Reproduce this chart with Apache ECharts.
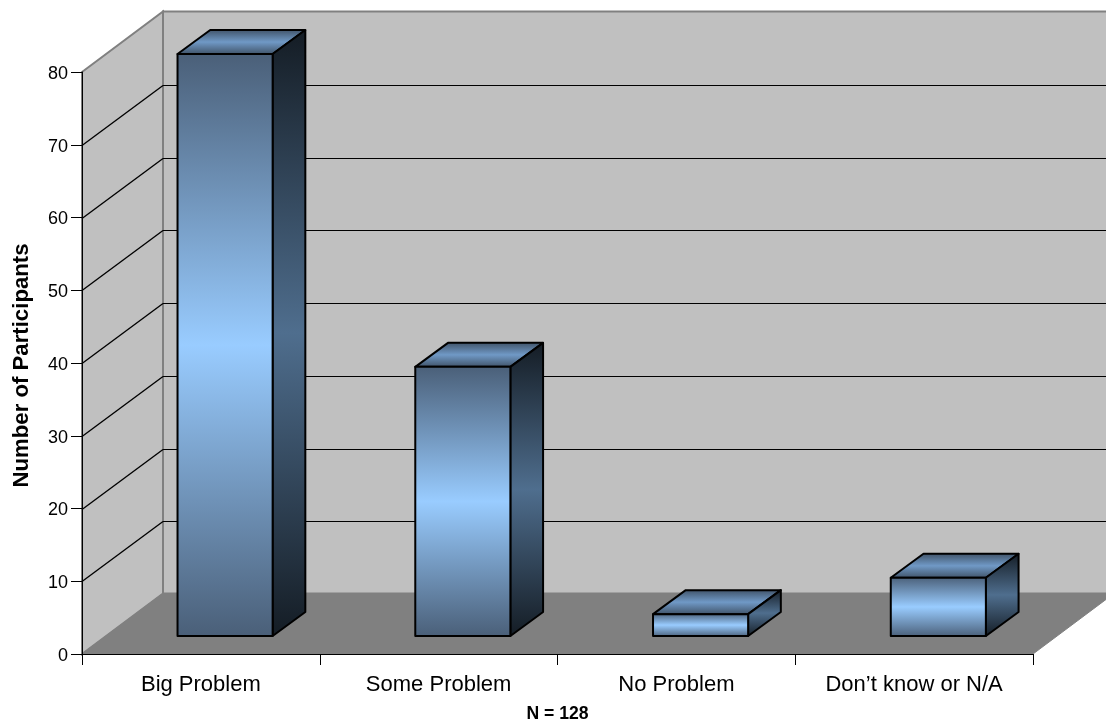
<!DOCTYPE html>
<html>
<head>
<meta charset="utf-8">
<style>html,body{margin:0;padding:0;background:#fff}#c{width:1106px;height:726px}</style>
<script src="https://cdn.jsdelivr.net/npm/echarts@6/dist/echarts.min.js"></script>
</head>
<body>
<div id="c"></div>
<script>
var categories = ['Big Problem', 'Some Problem', 'No Problem', 'Don\u2019t know or N/A'];
var participants = [80, 37, 3, 8];
var wallTicks = [10, 20, 30, 40, 50, 60, 70];
var yTitle = 'Number of Participants';
var xNote = 'N = 128';

// 3D projection of the box, in pixels
var DEPTH_X = 81, DEPTH_Y = -60.5;
var BAR_FRONT_X = 24.2, BAR_FRONT_Y = -18, BAR_DX = 32.7, BAR_DY = -24, BAR_RATIO = 0.4;

function grad(edge, mid) {
  return { type: 'linear', x: 0, y: 0, x2: 0, y2: 1, colorStops: [
    { offset: 0, color: edge }, { offset: 0.5, color: mid }, { offset: 1, color: edge }
  ]};
}
function wallItem(params, api) {
  var g = params.coordSys;
  var x0 = g.x, x1 = g.x + g.width, top = api.coord([0, 80])[1], bot = api.coord([0, 0])[1];
  return { type: 'group', children: [
    { type: 'polygon', shape: { points: [[x0 + DEPTH_X, top + DEPTH_Y], [x1 + DEPTH_X, top + DEPTH_Y], [x1 + DEPTH_X, bot + DEPTH_Y], [x0 + DEPTH_X, bot + DEPTH_Y]] },
      style: { fill: '#c0c0c0', stroke: '#808080', lineWidth: 2 } },
    { type: 'polygon', shape: { points: [[x0, top], [x0 + DEPTH_X, top + DEPTH_Y], [x0 + DEPTH_X, bot + DEPTH_Y], [x0, bot]] },
      style: { fill: '#c0c0c0', stroke: '#808080', lineWidth: 2 } },
    { type: 'polygon', shape: { points: [[x0, bot], [x1, bot], [x1 + DEPTH_X, bot + DEPTH_Y], [x0 + DEPTH_X, bot + DEPTH_Y]] },
      style: { fill: '#808080', stroke: '#808080', lineWidth: 1 } }
  ]};
}
function gridItem(params, api) {
  var g = params.coordSys;
  var y = Math.round(api.coord([0, api.value(0)])[1]) + 0.5;
  var xb = g.x + DEPTH_X, yb = Math.round(y + DEPTH_Y) + 0.5;
  return { type: 'group', children: [
    { type: 'line', shape: { x1: g.x, y1: y, x2: xb, y2: yb }, style: { stroke: '#000', lineWidth: 1.4 } },
    { type: 'line', shape: { x1: xb, y1: yb, x2: g.x + g.width + DEPTH_X, y2: yb }, style: { stroke: '#000', lineWidth: 1 } }
  ]};
}
function barItem(params, api) {
  var cat = api.value(0), val = api.value(1);
  var tp = api.coord([cat, val]), bt = api.coord([cat, 0]);
  var w = api.size([1, 0])[0] * BAR_RATIO;
  var l = tp[0] - w / 2 + BAR_FRONT_X, r = l + w;
  var t = tp[1] + BAR_FRONT_Y, b = bt[1] + BAR_FRONT_Y;
  function st(fill) { return { fill: fill, stroke: '#000', lineWidth: 2, lineJoin: 'round' }; }
  return { type: 'group', children: [
    { type: 'polygon', shape: { points: [[l, t], [r, t], [r + BAR_DX, t + BAR_DY], [l + BAR_DX, t + BAR_DY]] },
      style: st(grad('#3e5064', '#7099c6')) },
    { type: 'polygon', shape: { points: [[r, t], [r + BAR_DX, t + BAR_DY], [r + BAR_DX, b + BAR_DY], [r, b]] },
      style: st(grad('#141c24', '#4f6e8e')) },
    { type: 'polygon', shape: { points: [[l, t], [r, t], [r, b], [l, b]] },
      style: st(grad('#4a5f78', '#99ccff')) }
  ]};
}

var chart = echarts.init(document.getElementById('c'), null, { renderer: 'canvas' });
chart.setOption({
  backgroundColor: '#fff',
  animation: false,
  textStyle: { fontFamily: '"Liberation Sans", Arial, sans-serif', color: '#000' },
  grid: { left: 82, right: 73, top: 72, bottom: 72, containLabel: false, outerBoundsMode: 'none' },
  xAxis: {
    type: 'category', data: categories, z: 10,
    axisLine: { lineStyle: { color: '#000', width: 1 } },
    axisTick: { show: true, length: 11, lineStyle: { color: '#000' } },
    axisLabel: { color: '#000', fontSize: 22, margin: 20, fontFamily: '"Liberation Sans"' },
    name: xNote, nameLocation: 'middle', nameGap: 51,
    nameTextStyle: { color: '#000', fontSize: 17.6, fontWeight: 'bold', fontFamily: '"Liberation Sans"' }
  },
  yAxis: {
    type: 'value', min: 0, max: 80, interval: 10, z: 10,
    axisLine: { show: true, lineStyle: { color: '#000', width: 1 } },
    axisTick: { show: true, length: 11, lineStyle: { color: '#000' } },
    splitLine: { show: false },
    axisLabel: { color: '#000', fontSize: 18, margin: 14, formatter: '{v|{value}}',
      rich: { v: { fontSize: 18, color: '#000', padding: [4, 0, 0, 0], fontFamily: '"Liberation Sans"' } } },
    name: yTitle, nameLocation: 'middle', nameGap: 49, nameRotate: 90,
    nameTextStyle: { color: '#000', fontSize: 22.2, fontWeight: 'bold', padding: [0, 5, 0, 0], fontFamily: '"Liberation Sans"' }
  },
  series: [
    { type: 'custom', renderItem: wallItem, data: [[0]], z: 1, silent: true },
    { type: 'custom', renderItem: gridItem, data: wallTicks.map(function (v) { return [v]; }), z: 2, silent: true, encode: { y: 0 } },
    { type: 'custom', renderItem: barItem, data: participants.map(function (v, i) { return [i, v]; }), z: 3, encode: { x: 0, y: 1 } }
  ]
});
</script>
</body>
</html>
